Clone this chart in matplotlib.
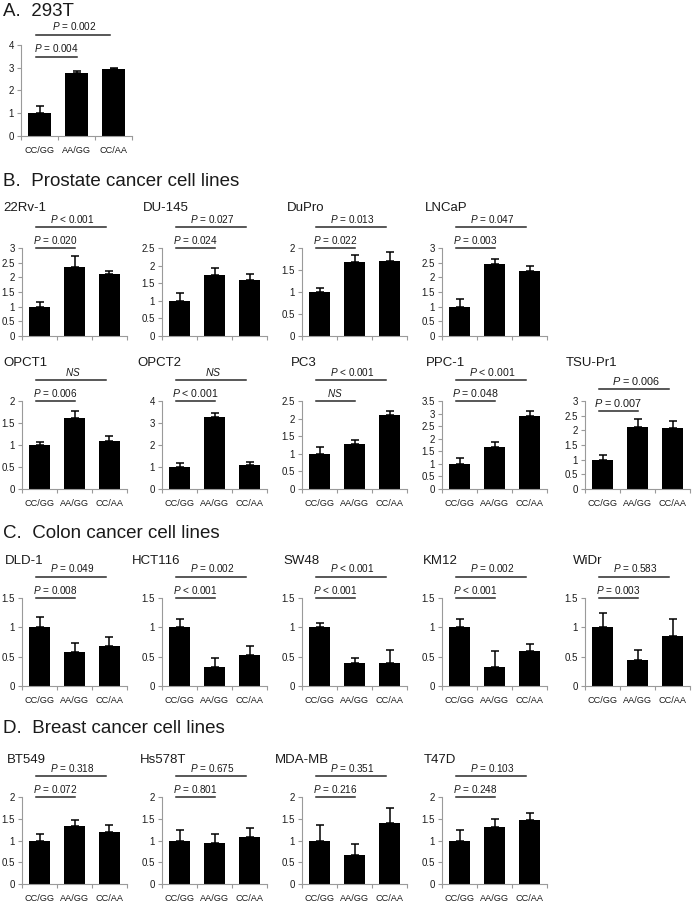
import matplotlib.pyplot as plt
import matplotlib.transforms as mtransforms

plt.rcParams['font.family'] = ['Liberation Sans', 'DejaVu Sans']
plt.rcParams['mathtext.fontset'] = 'custom'
plt.rcParams['mathtext.it'] = 'Liberation Sans:italic'
plt.rcParams['mathtext.rm'] = 'Liberation Sans'

# --- data ---
genotypes = ['CC/GG', 'AA/GG', 'CC/AA']

hek_means = [1.0, 2.75, 2.93]
hek_err = [0.30, 0.12, 0.05]
hek_p_long = '= 0.002'
hek_p_short = '= 0.004'

prostate_lines = ['22Rv-1', 'DU-145', 'DuPro', 'LNCaP',
                  'OPCT1', 'OPCT2', 'PC3', 'PPC-1', 'TSU-Pr1']
prostate_means = [[1.0, 2.34, 2.11], [1.0, 1.72, 1.60], [1.0, 1.68, 1.70],
                  [1.0, 2.47, 2.20], [1.0, 1.62, 1.10], [1.0, 3.29, 1.11],
                  [1.0, 1.28, 2.10], [1.0, 1.66, 2.90], [1.0, 2.10, 2.07]]
prostate_err = [[0.17, 0.40, 0.12], [0.22, 0.21, 0.16], [0.09, 0.17, 0.22],
                [0.27, 0.15, 0.18], [0.06, 0.15, 0.11], [0.16, 0.17, 0.12],
                [0.18, 0.12, 0.13], [0.25, 0.22, 0.20], [0.16, 0.29, 0.26]]
prostate_p_long = ['< 0.001', '= 0.027', '= 0.013', '= 0.047',
                   'NS', 'NS', '< 0.001', '< 0.001', '= 0.006']
prostate_p_short = ['= 0.020', '= 0.024', '= 0.022', '= 0.003',
                    '= 0.006', '< 0.001', 'NS', '= 0.048', '= 0.007']
prostate_ymax = [3, 2.5, 2, 3, 2, 4, 2.5, 3.5, 3]

colon_lines = ['DLD-1', 'HCT116', 'SW48', 'KM12', 'WiDr']
colon_means = [[1.0, 0.58, 0.69], [1.0, 0.33, 0.52], [1.0, 0.39, 0.40],
               [1.0, 0.33, 0.59], [1.0, 0.45, 0.86]]
colon_err = [[0.17, 0.15, 0.15], [0.14, 0.15, 0.17], [0.08, 0.09, 0.21],
             [0.15, 0.27, 0.12], [0.24, 0.17, 0.29]]
colon_p_long = ['= 0.049', '= 0.002', '< 0.001', '= 0.002', '= 0.583']
colon_p_short = ['= 0.008', '< 0.001', '< 0.001', '< 0.001', '= 0.003']
colon_ymax = 1.5

breast_lines = ['BT549', 'Hs578T', 'MDA-MB', 'T47D']
breast_means = [[1.0, 1.34, 1.19], [1.0, 0.95, 1.09], [1.0, 0.67, 1.40],
                [1.0, 1.30, 1.46]]
breast_err = [[0.16, 0.14, 0.17], [0.25, 0.21, 0.19], [0.36, 0.26, 0.34],
              [0.24, 0.19, 0.17]]
breast_p_long = ['= 0.318', '= 0.675', '= 0.351', '= 0.103']
breast_p_short = ['= 0.072', '= 0.801', '= 0.216', '= 0.248']
breast_ymax = 2

# --- layout (pixels) ---
W, H = 697, 905
fig = plt.figure(figsize=(W / 100, H / 100), dpi=100)
AXIS_GRAY = '#9a9a9a'
TEXT = '#1a1a1a'


def ptext(s):
    return '$NS$' if s == 'NS' else '$P$ ' + s


def panel(left, top, width, height, title, tx, ty, means, err, ymax,
          p_long, p_short, xlabels=True, long_dy=21, short_dy=0, psize=7.2):
    ax = fig.add_axes([left / W, 1 - (top + height) / H, width / W, height / H])
    ax.bar(range(3), means, width=0.6, color='black', zorder=2,
           yerr=[[0, 0, 0], err],
           error_kw=dict(ecolor='black', elinewidth=1.1, capsize=2.6, capthick=1.1))
    ax.set_xlim(-0.5, 2.5)
    ax.set_ylim(0, ymax)
    step = 1 if ymax == 4 else 0.5
    ticks = [i * step for i in range(int(round(ymax / step)) + 1)]
    ax.set_yticks(ticks)
    ax.set_yticklabels([f'{t:g}' for t in ticks], fontsize=7, color=TEXT)
    ax.set_xticks([-0.5, 0.5, 1.5, 2.5])
    ax.set_xticklabels([])
    ax.set_xticks([0, 1, 2], minor=True)
    if xlabels:
        ax.set_xticklabels(genotypes, minor=True, fontsize=6.6, color=TEXT)
    ax.tick_params(axis='x', which='minor', length=0, pad=7)
    ax.tick_params(axis='x', which='major', length=3, color=AXIS_GRAY, width=0.8)
    ax.tick_params(axis='y', length=3, color=AXIS_GRAY, width=0.8, pad=2)
    for s in ('top', 'right'):
        ax.spines[s].set_visible(False)
    for s in ('left', 'bottom'):
        ax.spines[s].set_color(AXIS_GRAY)
        ax.spines[s].set_linewidth(0.8)

    trans = mtransforms.blended_transform_factory(ax.transData, ax.transAxes)
    y_long = 1 + long_dy / height
    y_short = 1 + short_dy / height
    ax.plot([-0.1, 1.9], [y_long, y_long], color='#2a2a2a', lw=1.1,
            transform=trans, clip_on=False)
    ax.plot([-0.1, 1.0], [y_short, y_short], color='#2a2a2a', lw=1.1,
            transform=trans, clip_on=False)
    ax.text(0.95, y_long + 2.5 / height, ptext(p_long), transform=trans,
            ha='center', va='bottom', fontsize=psize, color=TEXT)
    ax.text(0.45, y_short + 2.5 / height, ptext(p_short), transform=trans,
            ha='center', va='bottom', fontsize=psize, color=TEXT)
    fig.text(tx / W, 1 - ty / H, title, ha='left', va='center',
             fontsize=9.5, color=TEXT)
    return ax


def header(y, s):
    fig.text(3 / W, 1 - y / H, s, ha='left', va='center', fontsize=13.5, color=TEXT)


col_left = [22, 162, 302, 442, 585]
col_w = 105

# A. 293T
header(12, 'A.  293T')
panel(21, 45, 111, 91, '', 3, 12, hek_means, hek_err, 4,
      hek_p_long, hek_p_short, long_dy=10, short_dy=-12)

# B. Prostate
header(182, 'B.  Prostate cancer cell lines')
b_title_x = [3, 143, 287, 425, 3, 137, 291, 426, 566]
for i, name in enumerate(prostate_lines):
    if i < 4:
        col, top, ty, xl = i, 248, 208, False
    else:
        col, top, ty, xl = i - 4, 401, 363, True
    kw = {}
    if name == 'TSU-Pr1':
        kw = dict(long_dy=12, short_dy=-10, psize=7.8)
    elif name in ('PPC-1', 'OPCT2'):
        kw = dict(psize=7.6)
    panel(col_left[col], top, col_w, 88, name, b_title_x[i], ty,
          prostate_means[i], prostate_err[i], prostate_ymax[i],
          prostate_p_long[i], prostate_p_short[i], xlabels=xl, **kw)

# C. Colon
header(533, 'C.  Colon cancer cell lines')
c_title_x = [5, 132, 283, 423, 573]
for i, name in enumerate(colon_lines):
    panel(col_left[i], 598, col_w, 88, name, c_title_x[i], 561,
          colon_means[i], colon_err[i], colon_ymax,
          colon_p_long[i], colon_p_short[i])

# D. Breast
header(728, 'D.  Breast cancer cell lines')
d_title_x = [7, 140, 275, 424]
for i, name in enumerate(breast_lines):
    panel(col_left[i], 797, col_w, 87, name, d_title_x[i], 760,
          breast_means[i], breast_err[i], breast_ymax,
          breast_p_long[i], breast_p_short[i])

fig.savefig('out.png', dpi=100, facecolor='white')
